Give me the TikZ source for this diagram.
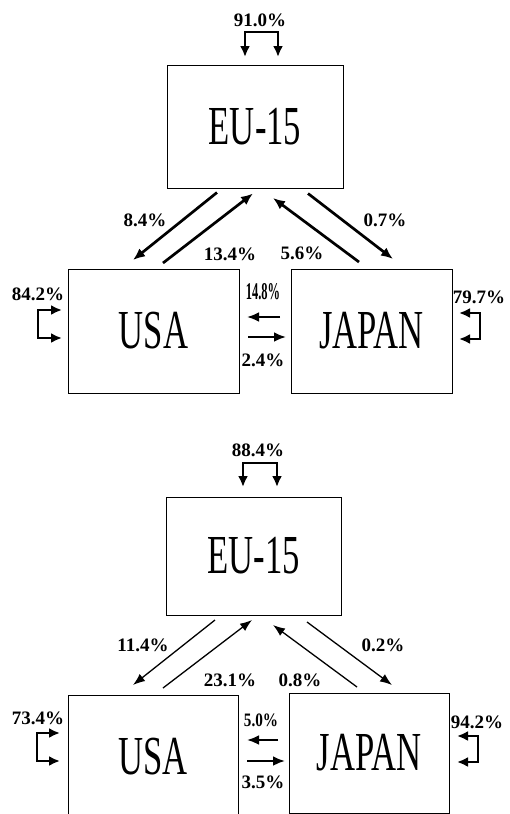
\documentclass[tikz,border=0pt]{standalone}
\usepackage{fontspec}
\setmainfont{Liberation Serif}
\newfontfamily\boxfont[FakeStretch=0.63]{Liberation Serif}
\newfontfamily\condfont[FakeStretch=0.52]{Liberation Serif}
\newfontfamily\tightfont[FakeStretch=0.8]{Liberation Serif}
\usetikzlibrary{positioning}
\usetikzlibrary{arrows.meta}

\begin{document}
\begin{tikzpicture}[x=1pt, y=-1pt, outer sep=0,
    box/.style={draw, line width=0.9pt, inner sep=0pt, font=\boxfont\fontsize{55}{55}\selectfont},
    pct/.style={inner sep=0pt, font=\bfseries\fontsize{19}{19}\selectfont},
    flow/.style={-{Latex[length=12pt,width=10pt]}, line width=2.7pt},
    thinflow/.style={-{Latex[length=12pt,width=9pt]}, line width=1.3pt},
    selfloop/.style={{Latex[length=11pt,width=10pt]}-{Latex[length=11pt,width=10pt]}, line width=2.7pt}]
        \useasboundingbox (0,0) rectangle (510,814);
        % upper panel: boxes
        \node [box, minimum width=176pt, minimum height=123pt] (eu1) at (255,126.5) {EU-15};
        \node [box, minimum width=171pt, minimum height=124pt] (us1) at (153.5,331) {USA};
        \node [box, minimum width=161pt, minimum height=124pt] (jp1) at (371.5,331) {JAPAN};
        % upper panel: flows between regions
        \draw[flow] ([xshift=-38pt,yshift=-4.5pt]eu1.south) -- ([xshift=-20.5pt,yshift=9pt]us1.north);
        \draw[flow] ([xshift=9.5pt,yshift=6pt]us1.north) -- ([xshift=-2pt,yshift=-5.5pt]eu1.south);
        \draw[flow] ([xshift=-12.5pt,yshift=7pt]jp1.north) -- ([xshift=18pt,yshift=-10pt]eu1.south);
        \draw[flow] ([xshift=53pt,yshift=-5.5pt]eu1.south) -- ([xshift=21.5pt,yshift=10pt]jp1.north);
        \draw[flow] ([xshift=-11pt,yshift=14pt]jp1.west) -- ([xshift=8pt,yshift=14pt]us1.east);
        \draw[flow] ([xshift=9pt,yshift=-6pt]us1.east) -- ([xshift=-5pt,yshift=-6pt]jp1.west);
        \node [pct] (l1) at (145,220) {8.4\%};
        \node [pct] (l2) at (230,254) {13.4\%};
        \node [pct] (l3) at (302,253) {5.6\%};
        \node [pct] (l4) at (385,220) {0.7\%};
        \node [pct, font=\condfont\bfseries\fontsize{24}{24}\selectfont] (l5) at (263,292) {14.8\%};
        \node [pct] (l6) at (263,360) {2.4\%};
        % upper panel: flows within regions
        \node [pct] (s1) at (260,20) {91.0\%};
        \coordinate (a1) at (245,57);
        \coordinate (b1) at (278,57);
        \draw[selfloop] (a1) -- (245,32) -- (278,32) -- (b1);
        \node [pct] (s2) at (38,294) {84.2\%};
        \coordinate (a2) at (62,310);
        \coordinate (b2) at (62,338);
        \draw[selfloop] (a2) -- (38,310) -- (38,338) -- (b2);
        \node [pct] (s3) at (479,297) {79.7\%};
        \coordinate (a3) at (459,313);
        \coordinate (b3) at (459,339);
        \draw[selfloop] (a3) -- (480,313) -- (480,339) -- (b3);
        % lower panel: boxes
        \node [box, minimum width=175pt, minimum height=118pt] (eu2) at (253.5,556) {EU-15};
        \node [box, minimum width=170pt, minimum height=124pt] (us2) at (153,757) {USA};
        \node [box, minimum width=160pt, minimum height=120pt] (jp2) at (369,753) {JAPAN};
        % lower panel: flows between regions
        \draw[thinflow] ([xshift=-38.5pt,yshift=-5pt]eu2.south) -- ([xshift=-20pt,yshift=10pt]us2.north);
        \draw[thinflow] ([xshift=10pt,yshift=7pt]us2.north) -- ([xshift=-1.5pt,yshift=-5pt]eu2.south);
        \draw[thinflow] ([xshift=-12pt,yshift=6pt]jp2.north) -- ([xshift=19.5pt,yshift=-10pt]eu2.south);
        \draw[thinflow] ([xshift=53.5pt,yshift=-7pt]eu2.south) -- ([xshift=23pt,yshift=8pt]jp2.north);
        \draw[flow] ([xshift=-11pt,yshift=13pt]jp2.west) -- ([xshift=9pt,yshift=17pt]us2.east);
        \draw[flow] ([xshift=9pt,yshift=-4pt]us2.east) -- ([xshift=-4pt,yshift=-8pt]jp2.west);
        \node [pct] (l7) at (143,645) {11.4\%};
        \node [pct] (l8) at (230,680) {23.1\%};
        \node [pct] (l9) at (300,680) {0.8\%};
        \node [pct] (l10) at (383,645) {0.2\%};
        \node [pct, font=\tightfont\bfseries\fontsize{19}{19}\selectfont] (l11) at (261,720) {5.0\%};
        \node [pct] (l12) at (263,782) {3.5\%};
        % lower panel: flows within regions
        \node [pct] (s4) at (258,450) {88.4\%};
        \coordinate (a4) at (243,487);
        \coordinate (b4) at (277,487);
        \draw[selfloop] (a4) -- (243,463) -- (277,463) -- (b4);
        \node [pct] (s5) at (38,718) {73.4\%};
        \coordinate (a5) at (60,733);
        \coordinate (b5) at (60,761);
        \draw[selfloop] (a5) -- (37,733) -- (37,761) -- (b5);
        \node [pct] (s6) at (477,722) {94.2\%};
        \coordinate (a6) at (457,736);
        \coordinate (b6) at (457,762);
        \draw[selfloop] (a6) -- (478,736) -- (478,762) -- (b6);
    \end{tikzpicture}
\end{document}
